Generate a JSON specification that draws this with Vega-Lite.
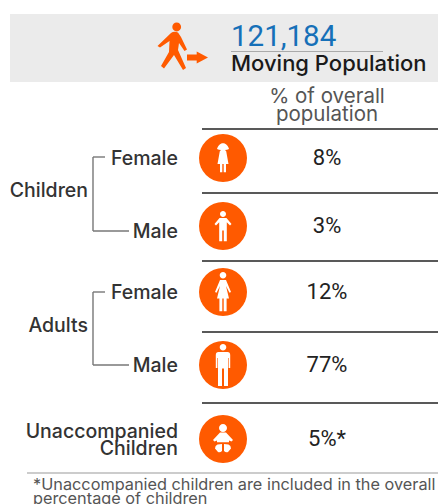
{"$schema":"https://vega.github.io/schema/vega-lite/v6.json","width":438,"height":504,"padding":0,"autosize":{"type":"fit","contains":"padding"},"background":"white","view":{"stroke":null},
"encoding":{
"x":{"field":"column","type":"quantitative","axis":null,"scale":{"domain":[0,1,2,3,4,5,6,7,8,9,10,11,12,13,14,15],"range":[10,27,33,88,93,105,129,172,178,197.5,202,223,231,327,383,438],"nice":false,"zero":false}},
"y":{"field":"row","type":"quantitative","axis":null,"scale":{"domain":[-8,-7,-6,-5,-4,-3,-2,-1,0,0.5,0.9,1,1.4,1.5,2,2.1,2.5,3,3.4,3.5,4,4.5,4.9,5,5.1,5.5,6,7],"range":[14,36,46,51.5,57.5,64,82,96,114,129,157,158,190,193,226,231,261,292,325,332,365,403,431,439,448,473,484,498],"nice":false,"zero":false}}
},
"layer":[
{"data":{"values":[{"column":0,"column_end":15,"row":-8,"row_end":-2}]},"mark":{"type":"rect","color":"#ebebeb"},"encoding":{"x2":{"field":"column_end"},"y2":{"field":"row_end"}}},
{"data":{"values":[{"column":12,"column_end":14,"row":-5}]},"mark":{"type":"rule","color":"#aaaaaa","strokeWidth":1},"encoding":{"x2":{"field":"column_end"}}},
{"data":{"values":[{"column":10,"column_end":15,"row":0.5},{"column":10,"column_end":15,"row":1.5},{"column":10,"column_end":15,"row":2.5},{"column":10,"column_end":15,"row":3.5},{"column":10,"column_end":15,"row":4.5}]},"mark":{"type":"rule","color":"#222222","strokeWidth":1.6},"encoding":{"x2":{"field":"column_end"}}},
{"data":{"values":[{"column":1,"column_end":15,"row":5.5}]},"mark":{"type":"rule","color":"#bbbbbb","strokeWidth":1.5},"encoding":{"x2":{"field":"column_end"}}},
{"data":{"values":[{"group":"Children","column":4,"row":0.9,"row_end":2.1},{"group":"Adults","column":4,"row":3,"row_end":4}]},"mark":{"type":"rule","color":"#777777","strokeWidth":1.4},"encoding":{"y2":{"field":"row_end"}}},
{"data":{"values":[{"column":4,"column_end":5,"row":0.9},{"column":4,"column_end":5,"row":3},{"column":4,"column_end":6,"row":2.1},{"column":4,"column_end":6,"row":4}]},"mark":{"type":"rule","color":"#777777","strokeWidth":1.4},"encoding":{"x2":{"field":"column_end"}}},
{"data":{"values":[{"column":11,"row":1},{"column":11,"row":2},{"column":11,"row":3},{"column":11,"row":4},{"column":11,"row":5}]},"mark":{"type":"point","shape":"circle","filled":true,"size":2304,"opacity":1,"color":"#ff5a00","strokeWidth":0}},
{"data":{"values":[
{"figure":"walker","column":7,"row":-6},{"figure":"arrow","column":9,"row":-4},
{"figure":"girl","column":11,"row":1},{"figure":"boy","column":11,"row":2},{"figure":"woman","column":11,"row":3},{"figure":"man","column":11,"row":4},{"figure":"baby","column":11,"row":5}]},
"mark":{"type":"point","filled":true,"size":4,"opacity":1,"strokeWidth":0},
"encoding":{
"shape":{"field":"figure","type":"nominal","legend":null,"scale":{"domain":["walker","arrow","girl","boy","woman","man","baby"],"range":[
"M0.3,-19a4.4,4.4 0 1,0 8.8,0a4.4,4.4 0 1,0 -8.8,0ZM-1,-13Q2,-15 6,-13.5L9,-9L15,3.5L12.5,5L7,-3L6,4L14,22L11,24L2,9L-8,22.5L-11,20L-3,6L-2.5,-5L-12,1.5L-14.5,0Z",
"M-10.5,-3H-0.8V-6L10.5,0L-0.8,6V3H-10.5Z",
"M0,-14.7C3,-14.7 5,-12 6,-9Q4,-8 2,-8L3.2,-6.8L5.5,6H3V14.3H0.7V6H-0.7V14.3H-3V6H-5.5L-3.2,-6.8L-2,-8Q-4,-8 -6,-9C-5,-12 -3,-14.7 0,-14.7Z",
"M-3,-12a3,3 0 1,0 6,0a3,3 0 1,0 -6,0ZM-3.5,-8H3.5L8.5,-2L7,-0.5L3.8,-3.8V15.3H0.8V4.5H-0.8V15.3H-3.8V-3.8L-7,-0.5L-8.5,-2Z",
"M-3.3,-16.7a3.3,3.3 0 1,0 6.6,0a3.3,3.3 0 1,0 -6.6,0ZM-3,-12H3L8,0L6.5,0.8L3,-6L6,6.5H3.6V19.3H0.7V6.5H-0.7V19.3H-3.6V6.5H-6L-3,-6L-6.5,0.8L-8,0Z",
"M-3.3,-17.7a3.3,3.3 0 1,0 6.6,0a3.3,3.3 0 1,0 -6.6,0ZM-4.5,-13H4.5Q7.2,-13 7.2,-10V3H5.6V-7H5V21H1V3.5H-1V21H-5V-7H-5.6V3H-7.2V-10Q-7.2,-13 -4.5,-13Z",
"M-4,-11a4,4 0 1,0 8,0a4,4 0 1,0 -8,0ZM-3,-6.5H3L10,1L8.5,2.5L6,1.5V3.3H-6V1.5L-8.5,2.5L-10,1ZM-1,5V12Q-3,14 -5,13L-8,9.5Q-8,6.5 -5.5,5.5ZM1,5V12Q3,14 5,13L8,9.5Q8,6.5 5.5,5.5Z"
]}},
"color":{"field":"figure","type":"nominal","legend":null,"scale":{"domain":["walker","arrow","girl","boy","woman","man","baby"],"range":["#ff5a00","#ff5a00","#ffffff","#ffffff","#ffffff","#ffffff","#ffffff"]}}}},
{"data":{"values":[{"label":"121,184","column":12,"row":-7}]},"mark":{"type":"text","align":"left","baseline":"middle","font":"Roboto","fontSize":29.5,"dy":1,"color":"#1670b8"},"encoding":{"text":{"field":"label"}}},
{"data":{"values":[{"label":"Moving Population","column":12,"row":-3}]},"mark":{"type":"text","align":"left","baseline":"middle","font":"Inter","fontSize":22,"fontWeight":500,"color":"#1a1a1a"},"encoding":{"text":{"field":"label"}}},
{"data":{"values":[{"label":"% of overall","column":13,"row":-1},{"label":"population","column":13,"row":0}]},"mark":{"type":"text","align":"center","baseline":"middle","font":"Inter","fontSize":20.5,"dy":1,"color":"#555555"},"encoding":{"text":{"field":"label"}}},
{"data":{"values":[{"label":"8%","column":13,"row":1},{"label":"3%","column":13,"row":2},{"label":"12%","column":13,"row":3},{"label":"77%","column":13,"row":4},{"label":"5%*","column":13,"row":5}]},"mark":{"type":"text","align":"center","baseline":"middle","font":"Roboto","fontSize":22,"color":"#222222"},"encoding":{"text":{"field":"label"}}},
{"data":{"values":[{"label":"Female","column":8,"row":1},{"label":"Male","column":8,"row":2.1},{"label":"Female","column":8,"row":3},{"label":"Male","column":8,"row":4},{"label":"Unaccompanied","column":8,"row":4.9},{"label":"Children","column":8,"row":5.1},{"label":"Children","column":3,"row":1.4},{"label":"Adults","column":3,"row":3.4}]},"mark":{"type":"text","align":"right","baseline":"middle","font":"Inter","fontSize":19.5,"fontWeight":500,"dy":1,"color":"#333333"},"encoding":{"text":{"field":"label"}}},
{"data":{"values":[{"label":"*Unaccompanied children are included in the overall","column":2,"row":6},{"label":"percentage of children","column":2,"row":7}]},"mark":{"type":"text","align":"left","baseline":"middle","font":"Inter","fontSize":16.3,"dy":1,"color":"#555555"},"encoding":{"text":{"field":"label"}}}
]}
